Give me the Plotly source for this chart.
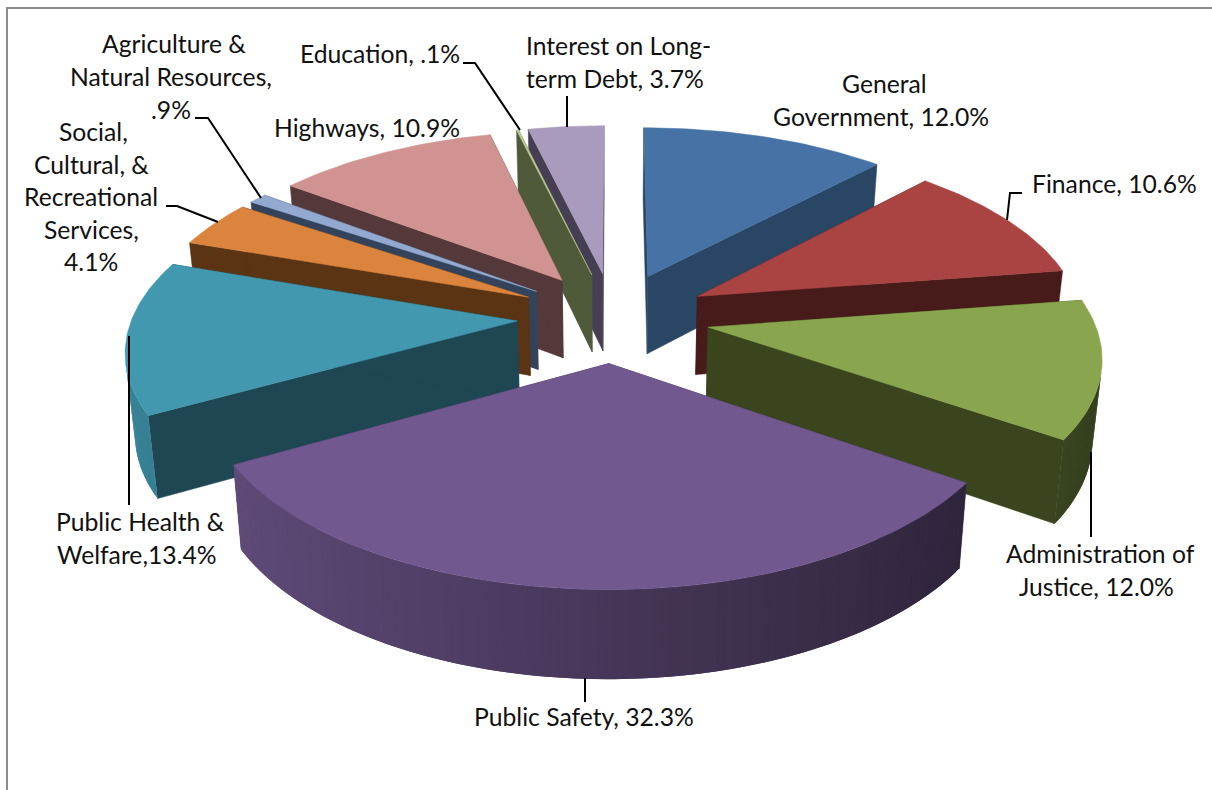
import math
import plotly.graph_objects as go

# Shares of spending, percent, clockwise from twelve o'clock
categories = ["General Government", "Finance", "Administration of Justice", "Public Safety",
              "Public Health & Welfare", "Social, Cultural, & Recreational Services",
              "Agriculture & Natural Resources", "Highways", "Education", "Interest on Long-term Debt"]
shares = [12.0, 10.6, 12.0, 32.3, 13.4, 4.1, 0.9, 10.9, 0.1, 3.7]

top_colors = ["#4672A6", "#A94442", "#89A54E", "#71588F", "#4198AF", "#DB843D",
              "#93A9CF", "#D19392", "#B9CD96", "#A99BBD"]
cut_colors = ["#2A4665", "#471B1A", "#3A451E", "#453558", "#1F4653", "#5A3413",
              "#34435C", "#553839", "#4F5A3A", "#463E52"]

# Back-to-front drawing order
paint_order = [9, 8, 7, 0, 6, 5, 1, 4, 2, 3]

# Label text lines with their centre positions on the canvas
label_lines = [
    ("General", 884, 85), ("Government, 12.0%", 881, 118),
    ("Finance, 10.6%", 1114, 185),
    ("Administration of", 1100, 555), ("Justice, 12.0%", 1096, 588),
    ("Public Safety, 32.3%", 584, 718),
    ("Public Health &", 140, 523), ("Welfare,13.4%", 137, 556),
    ("Social,", 93, 133), ("Cultural, &", 91, 166), ("Recreational", 91, 198),
    ("Services,", 91, 231), ("4.1%", 91, 263),
    ("Agriculture &", 174, 45), ("Natural Resources,", 171, 78), (".9%", 171, 111),
    ("Highways, 10.9%", 367, 129),
    ("Education, .1%", 380, 55),
    ("Interest on Long-", 618, 47), ("term Debt, 3.7%", 615, 80),
]

leader_paths = [
    "M567,96 L567,127",
    "M463,63 L475,63 L520,130",
    "M195,118 L208,118 L261,198",
    "M166,206 L177,206 L218,222",
    "M129,336 L129,505",
    "M1091,452 L1091,537",
    "M585,678 L585,702",
    "M1022,193 L1010,193 L1007,220",
]

# Projection of the exploded pie onto the canvas
CX, CY = 613.5, 317
RADIUS = 385
TILT = 180 / 385
PERSPECTIVE = 0.14
EXPLODE = 0.25
THICKNESS = 79
THICKNESS_POWER = 0.65
TAPER = 0.02
STEP = 1.0


def project(radius, angle, bisector, depth):
    a, b = math.radians(angle), math.radians(bisector)
    x = radius * math.sin(a) + EXPLODE * math.sin(b)
    y = radius * math.cos(a) + EXPLODE * math.cos(b)
    s = 1 / (1 + PERSPECTIVE * y)
    sx = CX + RADIUS * x * s
    sy = CY - RADIUS * TILT * y * s + THICKNESS * s ** THICKNESS_POWER * depth
    sx = CX + (sx - CX) * (1 - TAPER * depth)
    return sx, sy


def shade(hex_color, factor):
    rgb = [int(hex_color[i:i + 2], 16) for i in (1, 3, 5)]
    return "rgb(%d,%d,%d)" % tuple(min(255, round(c * factor)) for c in rgb)


def polygon(points, color, name, edge=0.5):
    xs, ys = zip(*points)
    return go.Scatter(x=list(xs) + [xs[0]], y=list(ys) + [ys[0]], mode="lines", fill="toself",
                      fillcolor=color, line=dict(color=color, width=edge), name=name,
                      hoverinfo="name", showlegend=False)


def faces_viewer(quad):
    # Signed area in canvas coordinates; negative for strips turned towards the camera
    area = 0.0
    for (x0, y0), (x1, y1) in zip(quad, quad[1:] + quad[:1]):
        area += x0 * y1 - x1 * y0
    return area < 0


starts = []
running = 0.0
for value in shares:
    starts.append(running)
    running += value * 3.6

fig = go.Figure()
for i in paint_order:
    a0 = starts[i]
    a1 = a0 + shares[i] * 3.6
    mid = (a0 + a1) / 2
    count = max(1, math.ceil((a1 - a0) / STEP))
    angles = [a0 + (a1 - a0) * k / count for k in range(count + 1)]

    # Flat cut faces
    for edge in (a0, a1):
        fig.add_trace(polygon([project(0, edge, mid, 0), project(1, edge, mid, 0),
                               project(1, edge, mid, 1), project(0, edge, mid, 1)],
                              cut_colors[i], categories[i]))
    # Curved outer wall, lit from the left; each strip runs under the next to hide seams
    for k, (u, v) in enumerate(zip(angles, angles[1:])):
        quad = [project(1, u, mid, 0), project(1, v, mid, 0), project(1, v, mid, 1), project(1, u, mid, 1)]
        if not faces_viewer(quad):
            continue
        factor = 0.62 - 0.25 * math.sin(math.radians((u + v) / 2))
        w = angles[k + 2] if k + 2 < len(angles) else v
        fig.add_trace(polygon([project(1, u, mid, 0), project(1, w, mid, 0),
                               project(1, w, mid, 1), project(1, u, mid, 1)],
                              shade(top_colors[i], factor), categories[i], edge=0))
    # Top face
    rim = [project(1, u, mid, 0) for u in angles]
    fig.add_trace(polygon([project(0, a0, mid, 0)] + rim, top_colors[i], categories[i]))

shapes = [dict(type="rect", xref="x", yref="y", x0=7, y0=8, x1=1240, y1=830,
               line=dict(color="#8C8C8C", width=2), layer="below")]
for path in leader_paths:
    shapes.append(dict(type="path", xref="x", yref="y", path=path,
                       line=dict(color="#000000", width=2), layer="above"))

annotations = [dict(x=x, y=y, xref="x", yref="y", text=line, showarrow=False,
                    xanchor="center", yanchor="middle", yshift=2,
                    font=dict(family="Lato", size=24.7, color="#111111"))
               for line, x, y in label_lines]

fig.update_layout(width=1212, height=790, margin=dict(l=0, r=0, t=0, b=0, pad=0),
                  paper_bgcolor="white", plot_bgcolor="white", showlegend=False,
                  xaxis=dict(range=[0, 1212], visible=False, fixedrange=True),
                  yaxis=dict(range=[790, 0], visible=False, fixedrange=True),
                  shapes=shapes, annotations=annotations)
fig.write_html("out.html", config=dict(displayModeBar=False))
